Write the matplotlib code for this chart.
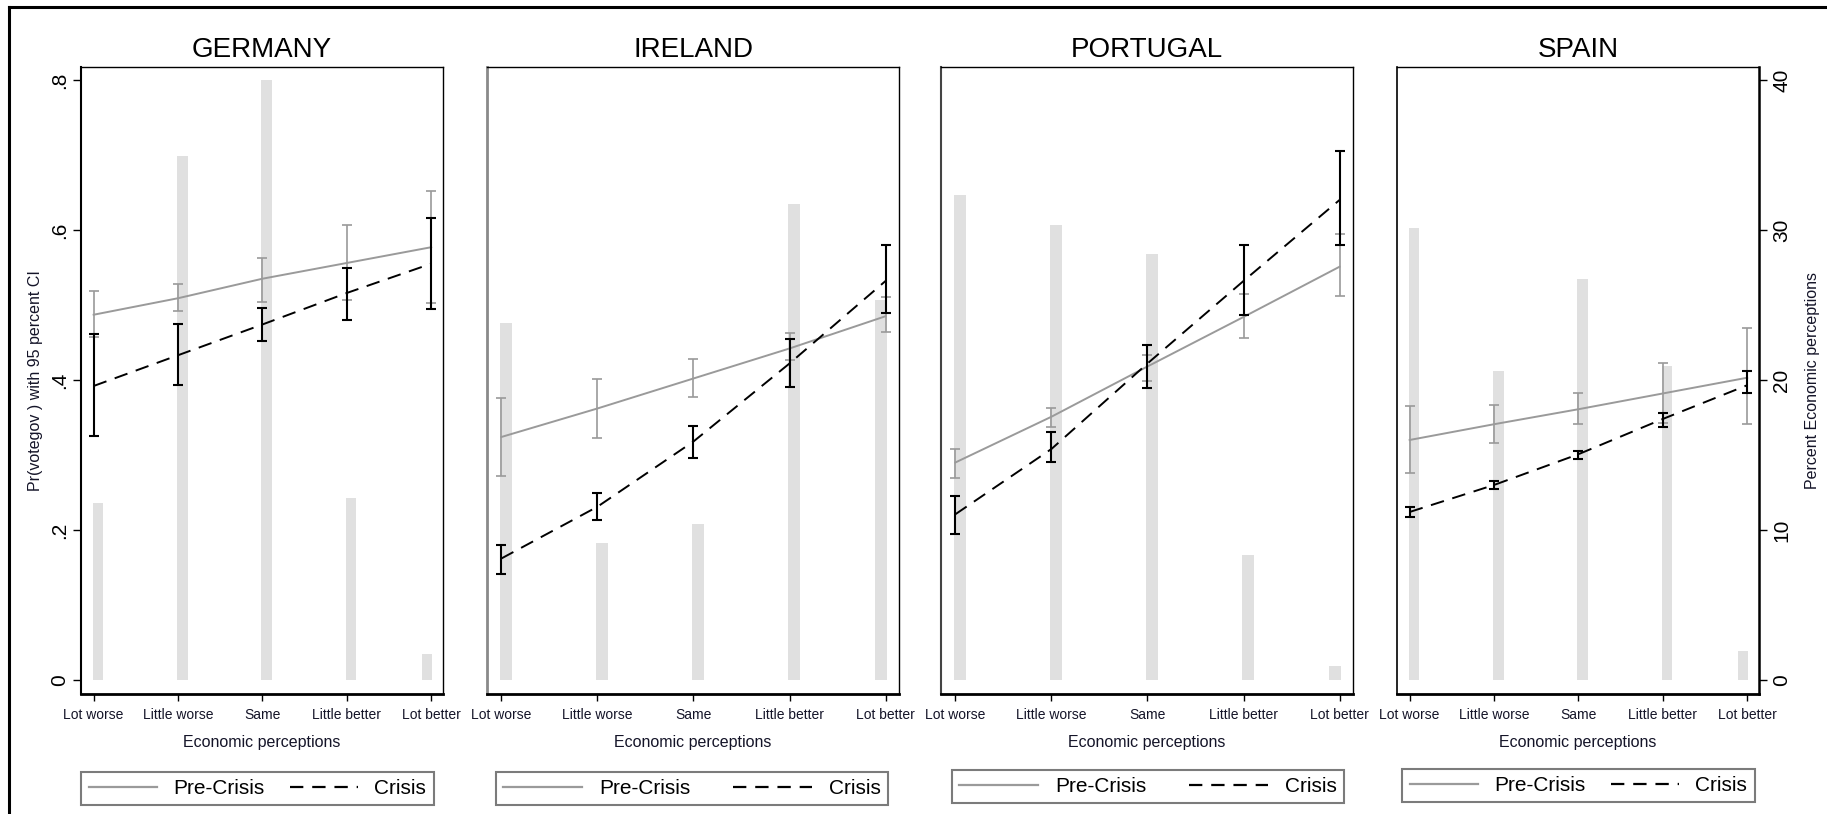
import numpy as np
import matplotlib
matplotlib.use("Agg")
import matplotlib.pyplot as plt
from matplotlib.lines import Line2D

plt.rcParams["font.family"] = ["Liberation Sans", "DejaVu Sans"]

# ---- data -------------------------------------------------------------
categories = ["Lot worse", "Little worse", "Same", "Little better", "Lot better"]
countries = ["GERMANY", "IRELAND", "PORTUGAL", "SPAIN"]

# percent of respondents in each economic-perception category
germany_pct = [11.8, 34.9, 40.0, 12.1, 1.7]
ireland_pct = [23.8, 9.1, 10.4, 31.7, 25.3]
portugal_pct = [32.3, 30.3, 28.4, 8.3, 0.9]
spain_pct = [30.1, 20.6, 26.7, 20.9, 1.9]

# predicted Pr(votegov) with 95% CI, pre-crisis
germany_pre = [0.487, 0.509, 0.535, 0.556, 0.577]
germany_pre_lo = [0.457, 0.492, 0.504, 0.507, 0.503]
germany_pre_hi = [0.519, 0.528, 0.563, 0.606, 0.652]
ireland_pre = [0.324, 0.362, 0.402, 0.442, 0.485]
ireland_pre_lo = [0.272, 0.323, 0.377, 0.427, 0.464]
ireland_pre_hi = [0.376, 0.401, 0.428, 0.463, 0.510]
portugal_pre = [0.290, 0.351, 0.418, 0.484, 0.551]
portugal_pre_lo = [0.269, 0.337, 0.399, 0.456, 0.512]
portugal_pre_hi = [0.308, 0.363, 0.433, 0.514, 0.594]
spain_pre = [0.320, 0.341, 0.361, 0.382, 0.403]
spain_pre_lo = [0.276, 0.316, 0.341, 0.342, 0.341]
spain_pre_hi = [0.365, 0.367, 0.383, 0.422, 0.469]

# predicted Pr(votegov) with 95% CI, crisis
germany_cri = [0.392, 0.433, 0.474, 0.516, 0.555]
germany_cri_lo = [0.325, 0.393, 0.452, 0.480, 0.495]
germany_cri_hi = [0.461, 0.474, 0.496, 0.549, 0.616]
ireland_cri = [0.162, 0.231, 0.318, 0.422, 0.532]
ireland_cri_lo = [0.141, 0.213, 0.296, 0.391, 0.489]
ireland_cri_hi = [0.180, 0.249, 0.339, 0.454, 0.580]
portugal_cri = [0.221, 0.308, 0.422, 0.532, 0.640]
portugal_cri_lo = [0.195, 0.291, 0.389, 0.486, 0.580]
portugal_cri_hi = [0.245, 0.330, 0.447, 0.580, 0.705]
spain_cri = [0.224, 0.260, 0.301, 0.348, 0.393]
spain_cri_lo = [0.217, 0.254, 0.295, 0.337, 0.382]
spain_cri_hi = [0.231, 0.265, 0.305, 0.356, 0.412]

pr_ticks = [0, 0.2, 0.4, 0.6, 0.8]
pr_ticklabels = ["0", ".2", ".4", ".6", ".8"]
pct_ticks = [0, 10, 20, 30, 40]

panels = [
    (germany_pct, (germany_pre, germany_pre_lo, germany_pre_hi), (germany_cri, germany_cri_lo, germany_cri_hi)),
    (ireland_pct, (ireland_pre, ireland_pre_lo, ireland_pre_hi), (ireland_cri, ireland_cri_lo, ireland_cri_hi)),
    (portugal_pct, (portugal_pre, portugal_pre_lo, portugal_pre_hi), (portugal_cri, portugal_cri_lo, portugal_cri_hi)),
    (spain_pct, (spain_pre, spain_pre_lo, spain_pre_hi), (spain_cri, spain_cri_lo, spain_cri_hi)),
]

# ---- layout (pixels in a 1827 x 814 canvas) ----------------------------
W, H = 1827, 814
axes_px = [(81, 443), (487, 899), (941, 1353), (1397, 1759)]
ax_top, ax_bot = 67, 694
legend_px = [(257.5, 788.5), (692, 788.5), (1148, 786.5), (1578.5, 785.5)]
legend_style = [
    dict(handlelength=3.3, handletextpad=0.77, columnspacing=1.2),
    dict(handlelength=3.8, handletextpad=0.82, columnspacing=2.05),
    dict(handlelength=3.8, handletextpad=0.82, columnspacing=2.05),
    dict(handlelength=3.3, handletextpad=0.77, columnspacing=1.2),
]
left_spine = [("black", 1.5), ("#8a8a8a", 2.0), ("#444444", 1.5), ("black", 1.2)]

GRAY = "#9a9a9a"
BAR = "#e0e0e0"
TXT = "#141428"

fig = plt.figure(figsize=(W / 100, H / 100), dpi=100)

x = np.arange(1, 6)
ylo, yhi = -0.0187, 0.8173
pct_scale = 50.0

# histogram bins of the 1..5 scale (40 bins) used for the percent bars
n_bins = 40
bin_w = 4 / n_bins
bin_idx = np.minimum((x - 1) * n_bins // 4, n_bins - 1)
bar_x = 1 + (bin_idx + 0.5) * bin_w

for i, (name, (pct, pre, cri)) in enumerate(zip(countries, panels)):
    l, r = axes_px[i]
    rect = [l / W, 1 - ax_bot / H, (r - l) / W, (ax_bot - ax_top) / H]
    ax = fig.add_axes(rect)
    axb = ax.twinx()
    axb.set_zorder(ax.get_zorder() - 1)
    ax.patch.set_visible(False)

    # percent bars
    axb.bar(bar_x, pct, width=0.125, color=BAR, linewidth=0)
    axb.set_ylim(ylo * pct_scale, yhi * pct_scale)
    for s in axb.spines.values():
        s.set_visible(False)

    # pre-crisis
    est, lo, hi = (np.array(v) for v in pre)
    ax.errorbar(x, est, yerr=[est - lo, hi - est], fmt="none", ecolor=GRAY,
                elinewidth=1.2, capsize=3.6, capthick=1.2, zorder=2)
    ax.plot(x, est, color=GRAY, lw=1.4, zorder=3)
    # crisis
    est, lo, hi = (np.array(v) for v in cri)
    ax.errorbar(x, est, yerr=[est - lo, hi - est], fmt="none", ecolor="black",
                elinewidth=1.5, capsize=3.6, capthick=1.5, zorder=4)
    ax.plot(x, est, color="black", lw=1.4, dashes=(7, 4.5), zorder=5)

    ax.set_xlim(0.85, 5.14)
    ax.set_ylim(ylo, yhi)
    ax.set_xticks(x)
    ax.set_xticklabels(categories, fontsize=10, color=TXT)
    ax.tick_params(axis="x", length=5, width=1, pad=5, direction="out")

    ax.set_xlabel("Economic perceptions", fontsize=11.5, color=TXT, va="center")
    ax.xaxis.set_label_coords(0.5, -(742 - ax_bot) / (ax_bot - ax_top))
    ax.set_title(name, fontsize=20, pad=7)

    ax.spines["top"].set_linewidth(1.0)
    ax.spines["right"].set_linewidth(1.0)
    ax.spines["bottom"].set_linewidth(2.0)
    ax.spines["left"].set_color(left_spine[i][0])
    ax.spines["left"].set_linewidth(left_spine[i][1])

    if i == 0:
        ax.set_yticks(pr_ticks)
        ax.set_yticklabels(pr_ticklabels, fontsize=15, rotation=90, va="center")
        ax.tick_params(axis="y", length=5.5, width=1, pad=3)
        ax.set_ylabel("Pr(votegov ) with 95 percent CI", fontsize=11.5,
                      color=TXT, va="center")
        ax.yaxis.set_label_coords((36 - l) / (r - l), 0.5)
    else:
        ax.set_yticks([])
    if i == 3:
        ax.spines["right"].set_linewidth(1.8)
        axb.set_yticks(pct_ticks)
        axb.set_yticklabels([str(t) for t in pct_ticks], fontsize=15,
                            rotation=90, va="center")
        axb.tick_params(axis="y", length=5.5, width=1, pad=4)
        axb.set_ylabel("Percent Economic perceptions", fontsize=11.5,
                       color=TXT, va="center", rotation=90)
        axb.yaxis.set_label_coords((1812 - l) / (r - l), 0.5)
    else:
        axb.set_yticks([])

    handles = [Line2D([], [], color=GRAY, lw=1.6),
               Line2D([], [], color="black", lw=1.6, dashes=(6, 4))]
    cx, cy = legend_px[i]
    leg = ax.legend(handles, ["Pre-Crisis", "Crisis"], loc="center",
                    bbox_to_anchor=(cx / W, 1 - cy / H),
                    bbox_transform=fig.transFigure, ncol=2, fontsize=15,
                    frameon=True, fancybox=False, edgecolor="#5a5a5a",
                    borderpad=0.35, **legend_style[i])
    leg.get_frame().set_linewidth(1.5)

# outer frame (top and left edges)
fig.add_artist(Line2D([9 / W, 9 / W], [0, 1 - 7 / H], color="black",
                      lw=2.2, transform=fig.transFigure))
fig.add_artist(Line2D([9 / W, 1], [1 - 7 / H, 1 - 7 / H], color="black",
                      lw=2.2, transform=fig.transFigure))

fig.savefig("out.png", dpi=100)
